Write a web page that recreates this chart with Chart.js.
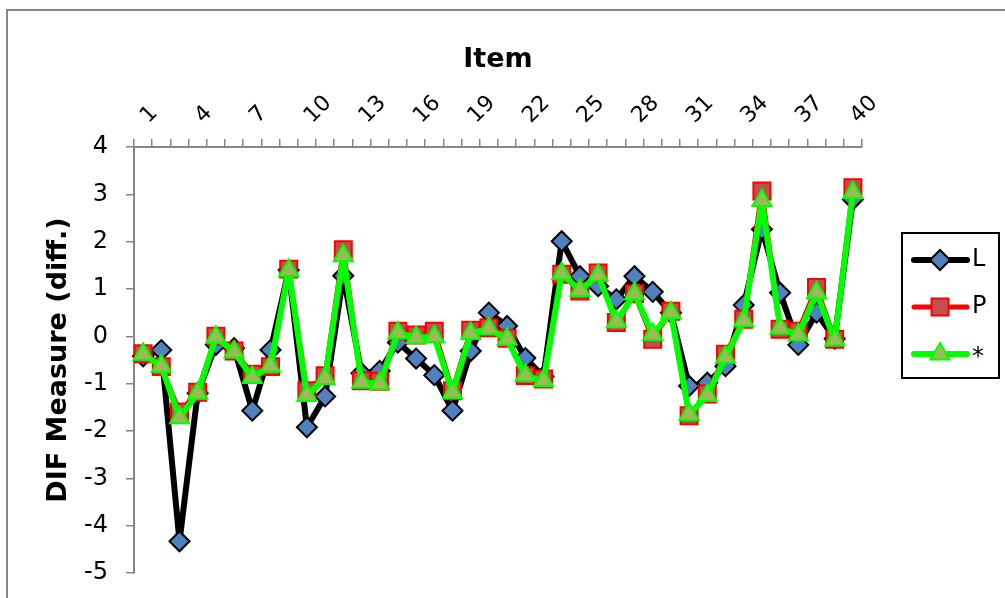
<!DOCTYPE html>
<html>
<head>
<meta charset="utf-8">
<script src="https://cdn.jsdelivr.net/npm/chart.js"></script>
<style>
  html, body { margin: 0; padding: 0; background: #fff; }
  #wrap { width: 1005px; height: 598px; }
</style>
</head>
<body>
<div id="wrap"><canvas id="difChart" width="1005" height="598"></canvas></div>
<script>
// item numbers (categories)
const items = [1, 2, 3, 4, 5, 6, 7, 8, 9, 10, 11, 12, 13, 14, 15, 16, 17, 18, 19, 20,
  21, 22, 23, 24, 25, 26, 27, 28, 29, 30, 31, 32, 33, 34, 35, 36, 37, 38, 39, 40];

// DIF measures per series
const valuesL = [-0.42, -0.29, -4.33, -1.2, -0.18, -0.25, -1.57, -0.29, 1.4, -1.92,
  -1.27, 1.28, -0.78, -0.73, -0.13, -0.47, -0.82, -1.57, -0.31, 0.5,
  0.22, -0.46, -0.85, 2.01, 1.27, 1.06, 0.78, 1.27, 0.94, 0.5,
  -1.05, -0.98, -0.63, 0.66, 2.26, 0.92, -0.18, 0.5, -0.05, 2.89];
const valuesP = [-0.37, -0.64, -1.6, -1.18, 0.0, -0.31, -0.8, -0.64, 1.42, -1.15,
  -0.83, 1.83, -0.94, -0.95, 0.11, 0.03, 0.11, -1.15, 0.13, 0.18,
  -0.04, -0.83, -0.9, 1.31, 0.96, 1.34, 0.29, 0.9, -0.06, 0.53,
  -1.68, -1.22, -0.38, 0.36, 3.07, 0.15, 0.11, 1.03, -0.06, 3.14];
const valuesStar = [-0.38, -0.63, -1.72, -1.2, -0.02, -0.33, -0.87, -0.63, 1.39, -1.25,
  -0.89, 1.7, -0.97, -1.0, 0.07, -0.03, -0.01, -1.19, 0.06, 0.16,
  -0.06, -0.83, -0.94, 1.33, 0.97, 1.29, 0.31, 0.9, 0.04, 0.5,
  -1.65, -1.25, -0.44, 0.33, 2.87, 0.17, 0.03, 0.92, -0.08, 3.04];

// only every third item number is labelled
const shownTicks = [1, 4, 7, 10, 13, 16, 19, 22, 25, 28, 31, 34, 37, 40];

const seriesNames = ["L", "P", "*"];

const axisGray = "#868686";
const fontFamily = "'DejaVu Sans', Verdana, sans-serif";

// outer frame of the chart object
const framePlugin = {
  id: "frame",
  beforeDraw(chart) {
    const ctx = chart.ctx;
    ctx.save();
    ctx.fillStyle = "#fff";
    ctx.fillRect(0, 0, chart.width, chart.height);
    ctx.strokeStyle = axisGray;
    ctx.lineWidth = 2;
    ctx.strokeRect(7, 10, 1100, 700);
    ctx.restore();
  }
};

// legend with line + marker, like the spreadsheet one
const lineLegendPlugin = {
  id: "lineLegend",
  afterDraw(chart) {
    const ctx = chart.ctx;
    const x0 = 902, y0 = 233, w = 97, h = 145;
    ctx.save();
    ctx.strokeStyle = "#000";
    ctx.lineWidth = 2;
    ctx.strokeRect(x0, y0, w, h);
    chart.data.datasets.forEach((ds, i) => {
      const cy = y0 + 27 + i * 47;
      ctx.strokeStyle = ds.borderColor;
      ctx.lineWidth = ds.borderWidth;
      ctx.lineCap = "round";
      ctx.beginPath();
      ctx.moveTo(914, cy);
      ctx.lineTo(967, cy);
      ctx.stroke();
      ctx.fillStyle = ds.pointBackgroundColor;
      ctx.strokeStyle = ds.pointBorderColor;
      ctx.lineWidth = ds.pointBorderWidth;
      Chart.helpers.drawPoint(ctx, {
        pointStyle: ds.pointStyle,
        radius: ds.pointRadius,
        rotation: 0,
        borderWidth: ds.pointBorderWidth
      }, 940, cy);
      ctx.fillStyle = "#000";
      ctx.font = "24px " + fontFamily;
      ctx.textBaseline = "middle";
      ctx.textAlign = "left";
      ctx.fillText(seriesNames[i], 972, cy + (i === 2 ? 4 : 0));
    });
    ctx.restore();
  }
};

const ctx = document.getElementById("difChart").getContext("2d");

new Chart(ctx, {
  type: "line",
  data: {
    labels: items,
    datasets: [
      {
        label: seriesNames[0],
        data: valuesL,
        borderColor: "#000000",
        borderWidth: 6,
        borderJoinStyle: "round",
        pointStyle: "rectRot",
        pointRadius: 10,
        pointBackgroundColor: "#4F81BD",
        pointBorderColor: "#000000",
        pointBorderWidth: 2,
        order: 3
      },
      {
        label: seriesNames[1],
        data: valuesP,
        borderColor: "#FF0000",
        borderWidth: 5,
        borderJoinStyle: "round",
        pointStyle: "rect",
        pointRadius: 12,
        pointBackgroundColor: "#C0504D",
        pointBorderColor: "#FF0000",
        pointBorderWidth: 2,
        order: 2
      },
      {
        label: seriesNames[2],
        data: valuesStar,
        borderColor: "#00FF00",
        borderWidth: 6,
        borderJoinStyle: "round",
        pointStyle: "triangle",
        pointRadius: 11,
        pointBackgroundColor: "#9BBB59",
        pointBorderColor: "#00FF00",
        pointBorderWidth: 2,
        order: 1
      }
    ]
  },
  options: {
    responsive: false,
    animation: false,
    layout: { padding: { left: 0, top: 0, right: 143, bottom: 25 } },
    elements: { line: { tension: 0 } },
    plugins: {
      legend: { display: false },
      tooltip: { enabled: false }
    },
    scales: {
      x: {
        type: "category",
        position: "top",
        offset: true,
        afterFit(scale) { scale.height = 147; },
        border: { display: true, color: axisGray, width: 2 },
        grid: {
          offset: true,
          drawOnChartArea: false,
          drawTicks: true,
          tickLength: 8,
          color: axisGray,
          lineWidth: 1.5
        },
        ticks: {
          autoSkip: false,
          minRotation: 45,
          maxRotation: 45,
          padding: 10,
          labelOffset: 20,
          color: "#000",
          font: { family: fontFamily, size: 22 },
          callback(value, index) {
            const n = items[index];
            return shownTicks.includes(n) ? String(n) : "";
          }
        },
        title: {
          display: true,
          text: "Item",
          color: "#000",
          font: { family: fontFamily, size: 27, weight: "bold" },
          padding: { top: 44, bottom: 0 }
        }
      },
      y: {
        min: -5,
        max: 4,
        afterFit(scale) {
          scale.width = 134;
          scale.paddingTop = 0;
          scale.paddingBottom = 0;
        },
        border: { display: true, color: axisGray, width: 2 },
        grid: {
          drawOnChartArea: false,
          drawTicks: true,
          tickLength: 8,
          color: axisGray,
          lineWidth: 1.5
        },
        ticks: {
          stepSize: 1,
          padding: 18,
          color: "#000",
          font: { family: fontFamily, size: 24 }
        },
        title: {
          display: true,
          text: "DIF Measure (diff.)",
          color: "#000",
          font: { family: fontFamily, size: 27, weight: "bold" },
          padding: { top: 43, bottom: 0 }
        }
      }
    }
  },
  plugins: [framePlugin, lineLegendPlugin]
});
</script>
</body>
</html>
